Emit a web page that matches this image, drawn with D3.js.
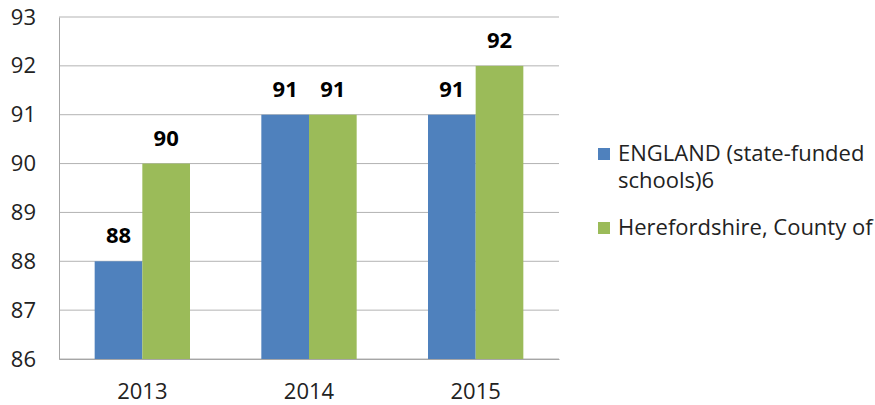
<!DOCTYPE html>
<html>
<head>
<meta charset="utf-8">
<script src="https://cdn.jsdelivr.net/npm/d3@7"></script>
<style>
  body { margin: 0; background: #fff; }
  text { font-family: "Open Sans", sans-serif; fill: #222; }
</style>
</head>
<body>
<svg id="chart" width="875" height="405"></svg>
<script>
const years = ["2013", "2014", "2015"];
const seriesNames = ["ENGLAND (state-funded schools)6", "Herefordshire, County of"];
const england = [88, 91, 91];
const hereford = [90, 91, 92];
const yTicks = [86, 87, 88, 89, 90, 91, 92, 93];
const colors = ["#4F81BD", "#9BBB59"];

const margin = { top: 17, right: 316, bottom: 46, left: 59 };
const width = 875 - margin.left - margin.right;
const height = 405 - margin.top - margin.bottom;
const fontSize = "22px";

const svg = d3.select("#chart")
  .append("g")
  .attr("transform", `translate(${margin.left},${margin.top})`);

const x = d3.scaleBand().domain(years).range([0, width]).paddingInner(0.428).paddingOuter(0.214);
const x1 = d3.scaleBand().domain([0, 1]).range([0, x.bandwidth()]);
const y = d3.scaleLinear().domain([86, 93]).range([height, 0]);

// gridlines
svg.selectAll(".grid")
  .data(yTicks)
  .enter()
  .append("line")
  .attr("x1", 0)
  .attr("x2", width)
  .attr("y1", d => y(d))
  .attr("y2", d => y(d))
  .attr("stroke", "#b3b3b3")
  .attr("stroke-width", 1);

// y-axis labels
svg.append("g")
  .call(d3.axisLeft(y).tickValues(yTicks).tickSize(0).tickPadding(23).tickFormat(d3.format("d")))
  .call(g => g.select(".domain").attr("stroke", "#a6a6a6"))
  .selectAll("text")
  .style("font-size", fontSize);

// bars
const rows = years.map((yr, i) => ({ year: yr, values: [england[i], hereford[i]] }));

const groups = svg.selectAll(".group")
  .data(rows)
  .enter()
  .append("g")
  .attr("transform", d => `translate(${x(d.year)},0)`);

groups.selectAll("rect")
  .data(d => d.values)
  .enter()
  .append("rect")
  .attr("x", (d, i) => x1(i))
  .attr("width", x1.bandwidth())
  .attr("y", d => y(d))
  .attr("height", d => height - y(d))
  .attr("fill", (d, i) => colors[i]);

groups.selectAll(".lbl")
  .data(d => d.values)
  .enter()
  .append("text")
  .attr("x", (d, i) => x1(i) + x1.bandwidth() / 2)
  .attr("y", d => y(d) - 18)
  .attr("text-anchor", "middle")
  .style("font-size", fontSize)
  .style("font-weight", "bold")
  .style("fill", "#000")
  .text(d => d);

// x-axis
svg.append("g")
  .attr("transform", `translate(0,${height})`)
  .call(d3.axisBottom(x).tickSize(0).tickPadding(24))
  .call(g => g.select(".domain").attr("stroke", "#a6a6a6"))
  .selectAll("text")
  .style("font-size", fontSize);

// legend
const legend = d3.select("#chart").append("g").attr("transform", "translate(598,0)");
const legendLines = [["ENGLAND (state-funded", "schools)6"], ["Herefordshire, County of"]];
const legendBase = [161, 235];

legendLines.forEach((lines, i) => {
  legend.append("rect")
    .attr("x", 0)
    .attr("y", legendBase[i] - 13)
    .attr("width", 12)
    .attr("height", 12)
    .attr("fill", colors[i]);
  const t = legend.append("text")
    .attr("x", 20)
    .attr("y", legendBase[i])
    .style("font-size", fontSize);
  lines.forEach((ln, j) => {
    t.append("tspan").attr("x", 20).attr("dy", j === 0 ? 0 : 27).text(ln);
  });
});
</script>
</body>
</html>
